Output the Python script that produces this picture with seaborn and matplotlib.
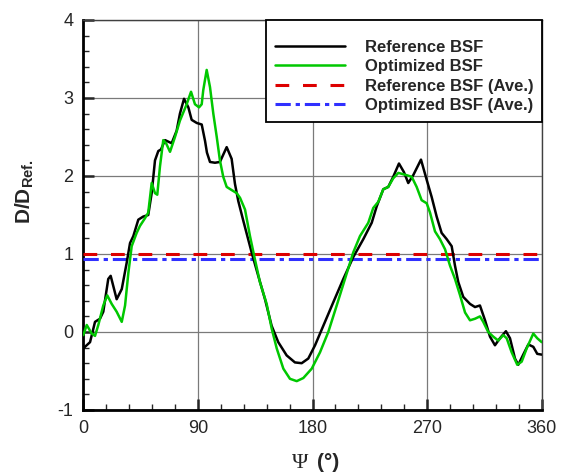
import matplotlib
matplotlib.use("Agg")
import matplotlib.pyplot as plt
from matplotlib.ticker import MultipleLocator
import seaborn as sns
import pandas as pd

# ---- data ----
psi_ref = [0, 5.3, 9.2, 13.1, 15.7, 19.6, 21.5, 26.2, 30.2, 34.1, 36.7, 39.3, 43.2, 47.1,
           51.0, 53.7, 56.3, 58.9, 61.0, 64.2, 66.8, 69.4, 73.3, 75.9, 79.1, 82.5, 85.1,
           89.1, 93.0, 95.6, 97.1, 99.5, 103.4, 107.3, 112.6, 116.5, 119.1, 121.7, 125.6,
           132.2, 137.4, 142.7, 147.9, 153.1, 159.7, 166.2, 171.5, 176.7, 182.0, 188.5,
           196.3, 204.2, 212.0, 219.9, 226.5, 230.4, 235.6, 239.5, 243.4, 247.9, 251.8,
           255.2, 259.1, 265.2, 269.7, 273.6, 277.5, 281.4, 285.4, 289.3, 291.9, 294.5,
           298.4, 303.7, 307.6, 311.5, 315.5, 319.4, 323.3, 327.2, 331.9, 335.1, 339.0,
           341.6, 345.5, 349.5, 353.4, 356.5, 360]
d_ref = [-0.21, -0.13, 0.13, 0.17, 0.26, 0.68, 0.72, 0.42, 0.55, 0.89, 1.14, 1.23, 1.44, 1.48,
         1.50, 1.78, 2.20, 2.32, 2.34, 2.46, 2.44, 2.42, 2.58, 2.80, 2.99, 2.88, 2.72,
         2.68, 2.66, 2.45, 2.30, 2.18, 2.17, 2.18, 2.37, 2.22, 1.90, 1.68, 1.43,
         1.02, 0.72, 0.42, 0.08, -0.13, -0.30, -0.39, -0.40, -0.34, -0.17, 0.08,
         0.38, 0.68, 0.96, 1.19, 1.40, 1.61, 1.83, 1.86, 1.99, 2.16, 2.05,
         1.91, 2.01, 2.21, 1.95, 1.73, 1.48, 1.27, 1.19, 1.10, 0.85, 0.64,
         0.45, 0.36, 0.32, 0.34, 0.15, -0.06, -0.17, -0.08, 0.01, -0.08, -0.34,
         -0.42, -0.29, -0.16, -0.19, -0.28, -0.29]

psi_opt = [0, 2.7, 6.6, 9.2, 11.8, 15.7, 18.8, 22.3, 26.2, 30.2, 32.8, 35.4, 38.0, 41.9,
           44.5, 48.5, 51.0, 53.7, 56.3, 58.1, 60.2, 62.8, 65.0, 68.1, 72.0, 75.9, 81.2,
           84.6, 87.7, 90.9, 93.0, 94.2, 96.9, 99.5, 102.1, 104.8, 107.3, 109.9, 112.6,
           116.5, 120.5, 123.1, 127.0, 130.9, 134.8, 138.7, 144.0, 148.0, 151.9, 157.1,
           162.3, 167.6, 172.8, 179.4, 185.9, 192.4, 199.0, 205.5, 212.0, 217.3, 223.8,
           227.7, 231.7, 235.6, 239.5, 243.4, 247.4, 254.0, 257.9, 261.8, 265.7, 269.7,
           272.3, 276.2, 280.1, 284.1, 288.0, 291.9, 295.9, 299.8, 303.7, 307.6, 311.5,
           314.1, 318.0, 322.0, 325.9, 329.8, 332.5, 336.4, 340.8, 344.3, 348.2, 353.4,
           356.5, 360]
d_opt = [-0.04, 0.09, -0.02, -0.05, 0.09, 0.34, 0.47, 0.36, 0.26, 0.13, 0.34, 0.76, 1.10, 1.27,
         1.36, 1.46, 1.53, 1.91, 1.78, 1.76, 2.12, 2.46, 2.42, 2.31, 2.50, 2.71, 2.92,
         3.08, 2.92, 2.88, 2.92, 3.10, 3.36, 3.14, 2.80, 2.50, 2.20, 1.99, 1.86,
         1.82, 1.78, 1.72, 1.57, 1.23, 0.93, 0.64, 0.36, 0.04, -0.21, -0.47,
         -0.60, -0.63, -0.59, -0.47, -0.26, 0.00, 0.34, 0.68, 1.02, 1.23, 1.40,
         1.59, 1.67, 1.83, 1.86, 1.97, 2.04, 2.01, 1.99, 1.86, 1.69, 1.65,
         1.53, 1.29, 1.19, 1.06, 0.85, 0.68, 0.47, 0.25, 0.15, 0.17, 0.20,
         0.13, 0.00, -0.06, -0.11, -0.04, -0.08, -0.26, -0.42, -0.38, -0.21, -0.02,
         -0.08, -0.13]

avg_ref = 1.00
avg_opt = 0.93

labels = ["Reference BSF", "Optimized BSF", "Reference BSF (Ave.)", "Optimized BSF (Ave.)"]
x_ticks = [0, 90, 180, 270, 360]
y_ticks = [-1, 0, 1, 2, 3, 4]

# ---- style ----
sns.set_style("ticks")
plt.rcParams["font.family"] = ["Liberation Sans", "DejaVu Sans"]
plt.rcParams["axes.unicode_minus"] = False
plt.rcParams["mathtext.fontset"] = "custom"
plt.rcParams["mathtext.rm"] = "Liberation Sans"
plt.rcParams["mathtext.bf"] = "Liberation Sans:bold"

W, H = 570, 475
fig = plt.figure(figsize=(W / 100, H / 100), dpi=100)
ax = fig.add_axes([83.3 / W, 1 - 410 / H, 458.4 / W, 390 / H])

df_ref = pd.DataFrame({"psi": psi_ref, "d": d_ref})
df_opt = pd.DataFrame({"psi": psi_opt, "d": d_opt})

sns.lineplot(data=df_ref, x="psi", y="d", ax=ax, color="black", lw=1.8,
             label=labels[0], sort=False, zorder=4, solid_joinstyle="round")
sns.lineplot(data=df_opt, x="psi", y="d", ax=ax, color="#00c800", lw=1.8,
             label=labels[1], sort=False, zorder=5, solid_joinstyle="round")
ax.axhline(avg_ref, color="#dd0000", lw=2.2, dashes=(4.5, 4.5), label=labels[2], zorder=3)
ax.axhline(avg_opt, color="#3030ff", lw=2.2, dashes=(5.0, 1.6, 1.4, 1.6), label=labels[3], zorder=3)

ax.set_xlim(0, 360)
ax.set_ylim(-1, 4)
ax.set_xticks(x_ticks)
ax.set_yticks(y_ticks)
ax.xaxis.set_minor_locator(MultipleLocator(18))
ax.yaxis.set_minor_locator(MultipleLocator(0.2))
ax.grid(True, which="major", color="#7a7a7a", lw=0.9, zorder=0)
ax.set_axisbelow(True)

ax.tick_params(which="both", direction="in", top=False, right=False)
ax.tick_params(which="major", length=8, width=1.8, labelsize=13, pad=7)
ax.tick_params(which="minor", length=4.5, width=1.0)
for s in ["left", "bottom"]:
    ax.spines[s].set_linewidth(2.0)
    ax.spines[s].set_color("black")
for s in ["top", "right"]:
    ax.spines[s].set_linewidth(1.0)
    ax.spines[s].set_color("#404040")

ax.set_xlabel("")
ax.set_ylabel("")

# axis labels
fig.text(300 / W, 1 - 463 / H, "\u03a8", family=["Liberation Serif", "DejaVu Serif"],
         fontsize=16, ha="center", va="center")
fig.text(328 / W, 1 - 463 / H, "(\u00b0)", fontsize=15, fontweight="bold",
         ha="center", va="center")
fig.text(25 / W, 1 - 192 / H, r"$\mathbf{D/D}_{\mathbf{Ref.}}$", fontsize=15,
         rotation=90, ha="center", va="center")

leg = ax.legend(loc="upper right", bbox_to_anchor=(1.0, 1.0), borderaxespad=0,
                prop={"family": "Liberation Sans", "weight": "bold", "size": 12},
                handlelength=4.2, handletextpad=1.2, labelspacing=0.27, borderpad=0.5,
                fancybox=False, framealpha=1, edgecolor="black",
                title=" ", title_fontsize=5)
leg.get_frame().set_linewidth(1.3)
leg.set_zorder(10)

fig.savefig("out.png", dpi=100)
